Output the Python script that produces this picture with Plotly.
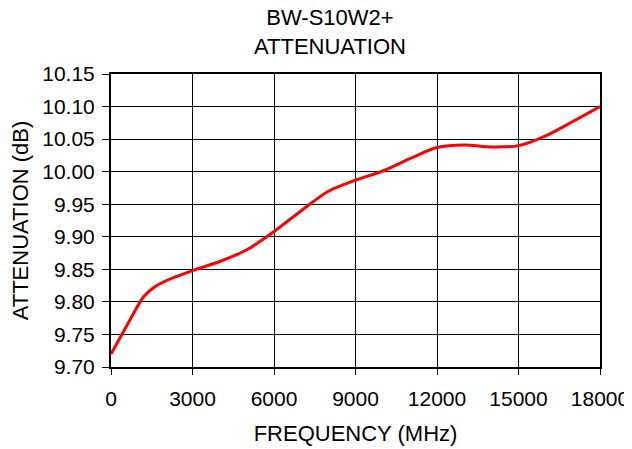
import plotly.graph_objects as go

freq_mhz = [0, 600, 1200, 1600, 2000, 3000, 4000, 5000, 6000, 7000, 8000,
            9000, 10000, 11000, 12000, 13000, 14000, 15000, 16000, 17000, 18000]
atten_db = [9.720, 9.765, 9.808, 9.823, 9.832, 9.848, 9.862, 9.880, 9.908, 9.940, 9.970,
            9.987, 10.001, 10.020, 10.037, 10.041, 10.038, 10.040, 10.055, 10.077, 10.100]

x_ticks = [0, 3000, 6000, 9000, 12000, 15000, 18000]
y_ticks = [9.70, 9.75, 9.80, 9.85, 9.90, 9.95, 10.00, 10.05, 10.10, 10.15]

title_lines = ["BW-S10W2+", "ATTENUATION"]

font = "Liberation Sans, Arial, sans-serif"

fig = go.Figure()
fig.add_trace(go.Scatter(
    x=freq_mhz, y=atten_db, mode="lines",
    line=dict(color="#ff0000", width=3, shape="spline", smoothing=0.8),
    showlegend=False, hoverinfo="x+y"))

fig.add_annotation(
    text="<br>".join(title_lines), xref="paper", yref="paper",
    x=0.448, y=1.0, xanchor="center", yanchor="bottom", yshift=13,
    showarrow=False, font=dict(size=22, family=font, color="black"))

fig.update_layout(
    width=624, height=441,
    margin=dict(l=103, r=32, t=66, b=82),
    paper_bgcolor="white", plot_bgcolor="white",
    font=dict(family=font, size=21, color="black"),
    xaxis=dict(range=[0, 18000], tickvals=x_ticks, ticktext=[str(v) for v in x_ticks],
               showgrid=True, gridcolor="black", gridwidth=1,
               showline=True, linecolor="black", linewidth=2, mirror=True,
               ticks="outside", ticklen=6, tickcolor="black", ticklabelstandoff=6,
               zeroline=False, automargin=False,
               title=dict(text="FREQUENCY (MHz)", font=dict(size=22), standoff=16)),
    yaxis=dict(range=[9.70, 10.15], tickvals=y_ticks, ticktext=[f"{v:.2f}" for v in y_ticks],
               showgrid=True, gridcolor="black", gridwidth=1,
               showline=True, linecolor="black", linewidth=2, mirror=True,
               ticks="outside", ticklen=7, tickcolor="black", ticklabelstandoff=3,
               zeroline=False, automargin=False,
               title=dict(text="ATTENUATION (dB)", font=dict(size=22), standoff=12)),
)

fig.write_html("out.html")
